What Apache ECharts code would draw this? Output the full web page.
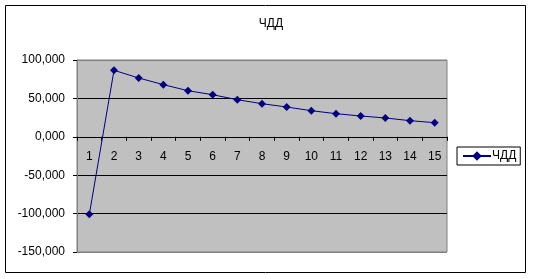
<!DOCTYPE html>
<html><head><meta charset="utf-8">
<script src="https://cdn.jsdelivr.net/npm/echarts@6/dist/echarts.min.js"></script>
<style>html,body{margin:0;padding:0;background:#fff}#c{width:533px;height:279px}</style>
</head><body><div id="c"></div>
<script>
const categories = ['1','2','3','4','5','6','7','8','9','10','11','12','13','14','15'];
const npvValues = [-100.9, 86.6, 76.6, 67.9, 60.0, 54.8, 48.3, 43.1, 38.8, 34.0, 30.1, 27.1, 24.5, 21.0, 18.4];
const seriesName = 'ЧДД';
const titleText = 'ЧДД';
const yMin = -150, yMax = 100, yStep = 50;

const gridH = 192;
const chart = echarts.init(document.getElementById('c'), null, {renderer:'canvas'});
const font = '"Liberation Sans", Arial, sans-serif';
chart.setOption({
  animation: false,
  backgroundColor: '#fff',
  title: {text: titleText, left: 266, top: 13, textAlign: 'center',
    textStyle: {fontFamily: font, fontSize: 12, fontWeight: 'normal', color: '#000'}},
  graphic: [{type: 'rect', shape: {x: 5.5, y: 5.5, width: 520, height: 267},
    style: {fill: 'none', stroke: '#000', lineWidth: 1}, z: -1}],
  legend: {left: 457, top: 147, orient: 'vertical', backgroundColor: '#fff',
    borderColor: '#000', borderWidth: 1, borderRadius: 0, padding: [3, 4, 3, 5],
    itemWidth: 28, itemHeight: 12, data: [seriesName],
    textStyle: {fontFamily: font, fontSize: 12, color: '#000', padding: [0,0,0,-4]}},
  grid: {left: 77, top: 60, width: 370, height: gridH, show: true,
    backgroundColor: '#C0C0C0', borderColor: '#808080', borderWidth: 1},
  xAxis: {type: 'category', data: categories, boundaryGap: true, position: 'bottom',
    offset: -gridH * (0 - yMin) / (yMax - yMin),
    axisLine: {show: true, onZero: false, lineStyle: {color: '#000', width: 1}},
    axisTick: {show: true, inside: false, length: 4, lineStyle: {color: '#000'}},
    axisLabel: {color: '#000', fontFamily: font, fontSize: 12, margin: 14}},
  yAxis: {type: 'value', min: yMin, max: yMax, interval: yStep,
    axisLine: {show: true, lineStyle: {color: '#808080'}},
    axisTick: {show: true, length: 4, lineStyle: {color: '#000'}},
    axisLabel: {color: '#000', fontFamily: font, fontSize: 12, margin: 12,
      formatter: v => v.toFixed(3).replace('.', ',')},
    splitLine: {show: true, lineStyle: {color: ['#808080','#000','#000','#000','#000','#808080'], width: 1}}},
  series: [{name: seriesName, type: 'line', data: npvValues,
    symbol: 'diamond', symbolSize: 8, showAllSymbol: true,
    lineStyle: {color: '#000080', width: 1},
    itemStyle: {color: '#000080'}}]
});
</script></body></html>
